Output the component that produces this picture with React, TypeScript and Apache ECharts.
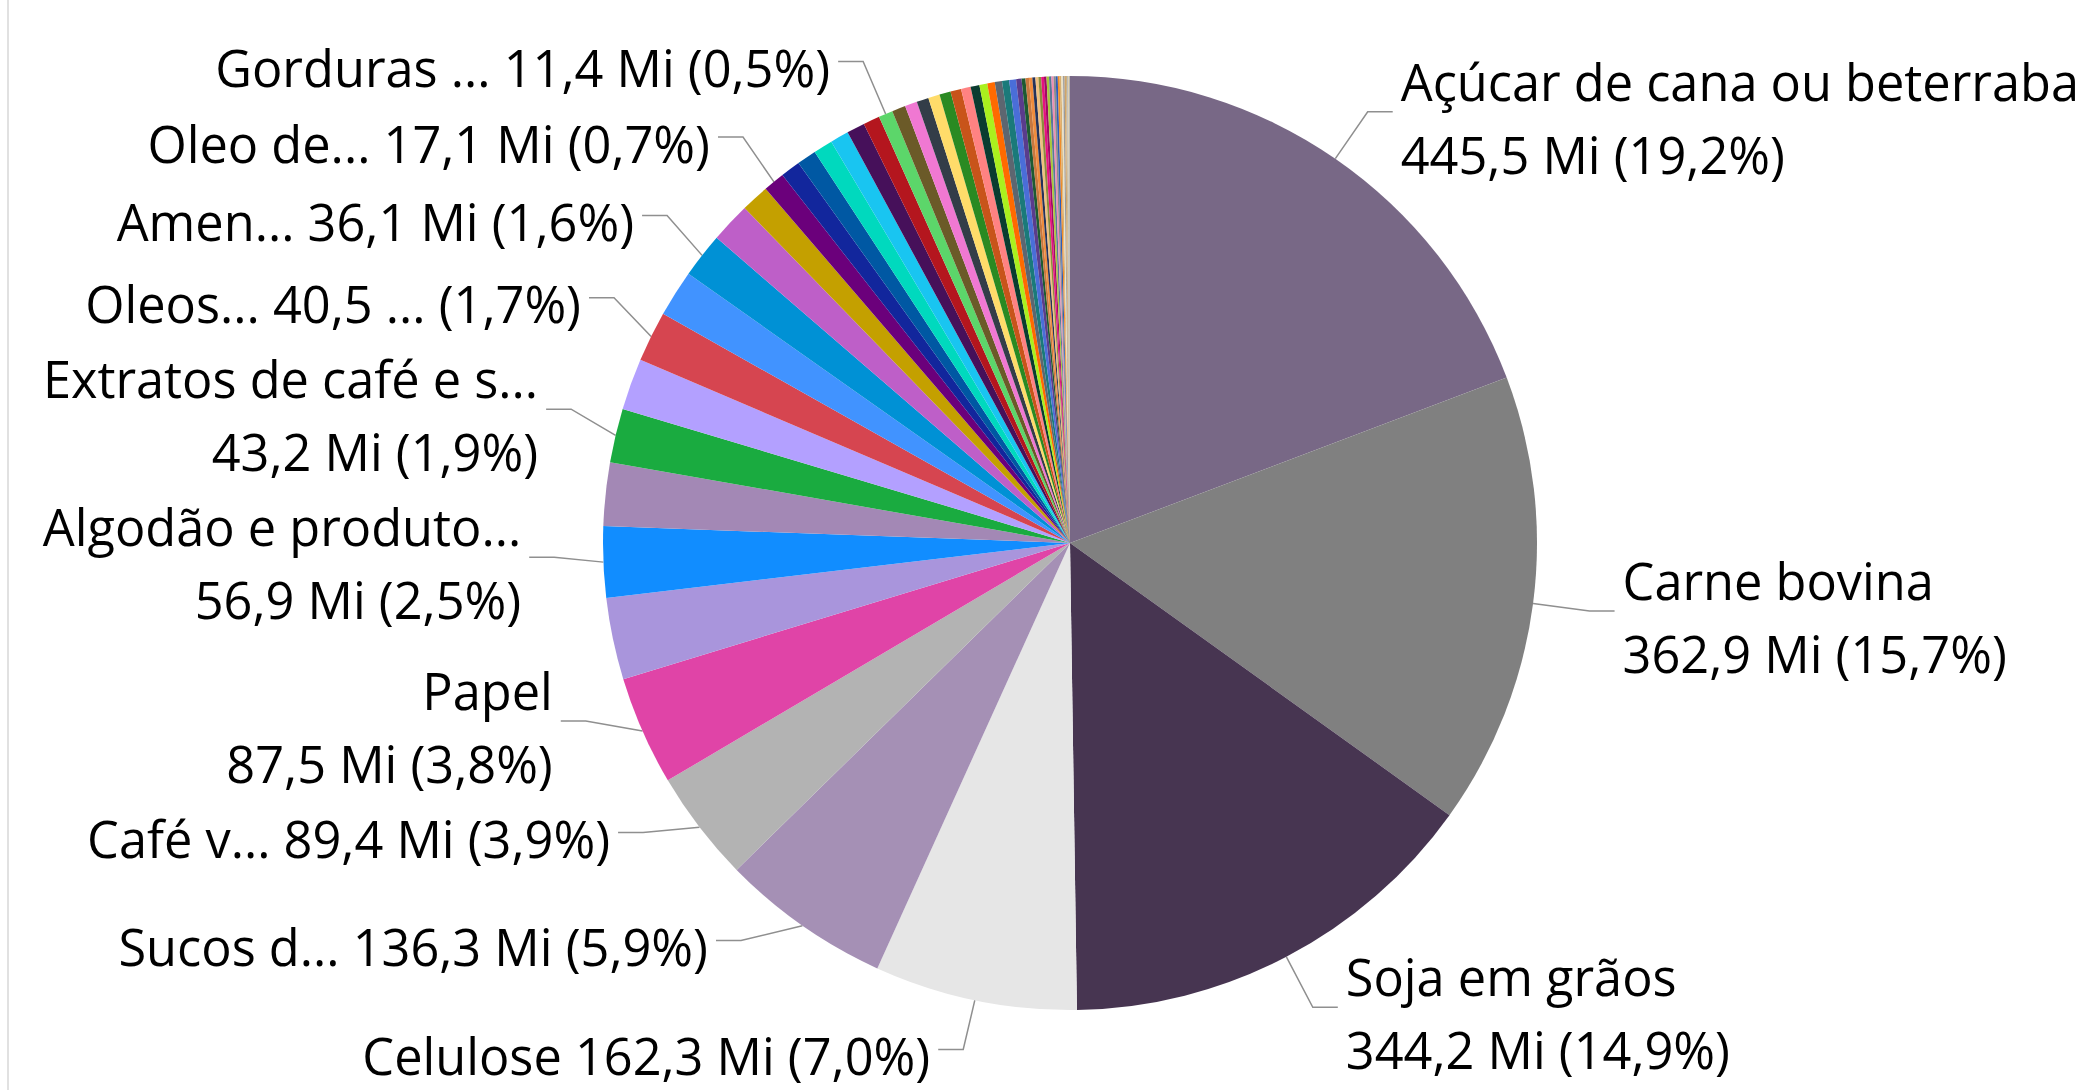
import React, { useEffect, useRef } from "react";
import * as echarts from "echarts";

// Slices, clockwise from 12 o'clock (values in millions)
const categories = [
  "Açúcar de cana ou beterraba",
  "Carne bovina",
  "Soja em grãos",
  "Celulose",
  "Sucos d...",
  "Café v...",
  "Papel",
  "Item 08",
  "Algodão e produto...",
  "Item 10",
  "Extratos de café e s...",
  "Item 12",
  "Oleos...",
  "Item 14",
  "Amen...",
  "Item 16",
  "Item 17",
  "Oleo de...",
  "Item 19",
  "Item 20",
  "Item 21",
  "Item 22",
  "Item 23",
  "Item 24",
  "Gorduras ...",
  "Item 26",
  "Item 27",
  "Item 28",
  "Item 29",
  "Item 30",
  "Item 31",
  "Item 32",
  "Item 33",
  "Item 34",
  "Item 35",
  "Item 36",
  "Item 37",
  "Item 38",
  "Item 39",
  "Item 40",
  "Item 41",
  "Item 42",
  "Item 43",
  "Item 44",
  "Item 45",
  "Item 46",
  "Item 47",
  "Item 48",
  "Item 49",
  "Item 50",
  "Item 51",
  "Item 52",
  "Item 53",
  "Item 54",
  "Item 55",
  "Item 56",
  "Item 57",
  "Item 58",
  "Item 59",
  "Item 60",
  "Item 61",
];

const values = [
  445.5, 362.9, 344.2, 162.3, 136.3, 89.4, 87.5, 65.5, 56.9, 50.8,
  43.2, 41.2, 40.5, 37.5, 36.1, 32.2, 22.5, 17.1, 15.8, 15.6,
  15.4, 14.8, 14.5, 13.2, 11.4, 10.9, 9.8, 9.6, 9.2, 9.0,
  8.6, 7.7, 7.1, 6.3, 6.0, 5.8, 5.7, 5.5, 4.3,
  3.1, 2.8, 2.7, 2.4, 2.4, 2.2, 2.2, 2.0, 2.0, 1.9,
  1.7, 1.7, 1.6, 1.5, 1.4, 1.3, 1.2, 1.1, 0.9, 0.9, 0.8, 0.6,
];

const colors = [
  "#786886", "#808080", "#473551", "#e6e6e6", "#a590b5", "#b3b3b3", "#e044a7",
  "#a995dc", "#118dff", "#a388b5", "#1aab40", "#b3a0ff", "#d64550", "#4193ff",
  "#0091d5", "#be5fc8", "#c4a000", "#6b007b", "#12269c", "#0058a3", "#00d9be",
  "#19c5f1", "#46105a", "#b4161e", "#5cd66a", "#6b5a28", "#f078d2", "#333d48",
  "#ffdc6a", "#2a8a22", "#c8541a", "#ff8282", "#0a3c30", "#aaf01e", "#ff6a00",
  "#5d6670", "#1a7a7a", "#4a6ed8", "#5a3c8c",
  "#1e5a32", "#c87840", "#f08c3c", "#26325a", "#f0c080", "#8c8c3c", "#e6127f",
  "#a00a64", "#a8c83c", "#5a7898", "#f08cb4", "#8c8c8c", "#2e5cb8", "#f08c28",
  "#d8b070", "#e8e0c8", "#9a9a9a", "#d0a46a", "#c8b080", "#b4b4b4", "#d8c8a0",
  "#a0a0a0",
];

// Which slices carry a data label, and how it is laid out
const twoLineLabels = [
  "Açúcar de cana ou beterraba",
  "Carne bovina",
  "Soja em grãos",
  "Papel",
  "Algodão e produto...",
  "Extratos de café e s...",
];
const oneLineLabels = [
  "Celulose",
  "Sucos d...",
  "Café v...",
  "Oleos...",
  "Amen...",
  "Oleo de...",
  "Gorduras ...",
];
const valueTextOverrides: Record<string, string> = { "Oleos...": "40,5 ..." };

// extra label spacing (style only) for the crowded lower-left labels
const labelSpacing: Record<string, number[]> = {
  "Sucos d...": [33, 0, 33, 0],
  "Celulose": [1, 0, 1, 0],
};

const FONT = "'Segoe UI', 'Open Sans', sans-serif";

export default function App() {
  const ref = useRef<HTMLDivElement>(null);

  useEffect(() => {
    document.body.style.margin = "0";
    const chart = echarts.init(ref.current as HTMLDivElement, undefined, {
      renderer: "svg",
    });
    const total = values.reduce((a, b) => a + b, 0);
    const num = (v: number) => v.toFixed(1).replace(".", ",");

    const data = categories.map((name, i) => {
      const labelled = twoLineLabels.includes(name) || oneLineLabels.includes(name);
      const spacing = labelSpacing[name];
      const label: any = { show: labelled };
      if (spacing) {
        label.padding = spacing;
      }
      return {
        name,
        value: values[i],
        itemStyle: { color: colors[i] },
        label,
        labelLine: { show: labelled },
      };
    });

    chart.setOption({
      animation: false,
      backgroundColor: "transparent",
      series: [
        {
          type: "pie",
          left: 0,
          top: 0,
          width: 2084,
          height: 1088,
          center: [1070, 543],
          radius: 467,
          startAngle: 90,
          clockwise: true,
          avoidLabelOverlap: true,
          minShowLabelAngle: 0,
          data,
          itemStyle: { borderWidth: 0 },
          emphasis: { disabled: true },
          label: {
            show: true,
            position: "outside",
            fontFamily: FONT,
            fontSize: 50.5,
            lineHeight: 73,
            color: "#000000",
            distanceToLabelLine: 8,
            bleedMargin: 0,
            overflow: "none",
            rich: {
              t: {
                fontFamily: FONT,
                fontSize: 50.5,
                lineHeight: 73,
                height: 61,
                verticalAlign: "bottom",
                color: "#000000",
              },
            },
            formatter: (p: any) => {
              const name = p.name as string;
              const pct = num((p.value / total) * 100);
              const valText = valueTextOverrides[name] ?? num(p.value) + " Mi";
              const tail = valText + " (" + pct + "%)";
              return twoLineLabels.includes(name)
                ? "{t|" + name + "}\n{t|" + tail + "}"
                : "{t|" + name + " " + tail + "}";
            },
          },
          labelLine: {
            show: true,
            length: 57,
            length2: 25,
            smooth: false,
            lineStyle: { color: "#8f8f8f", width: 1.5 },
          },
        },
      ],
    });
    return () => chart.dispose();
  }, []);

  return (
    <div style={{ position: "relative", width: 2084, height: 1090, background: "#ffffff" }}>
      <div
        style={{ position: "absolute", left: 7, top: 0, width: 2, height: 1090, background: "#e1e1e1" }}
      />
      <div ref={ref} style={{ position: "absolute", left: 0, top: 0, width: 2084, height: 1090 }} />
    </div>
  );
}
